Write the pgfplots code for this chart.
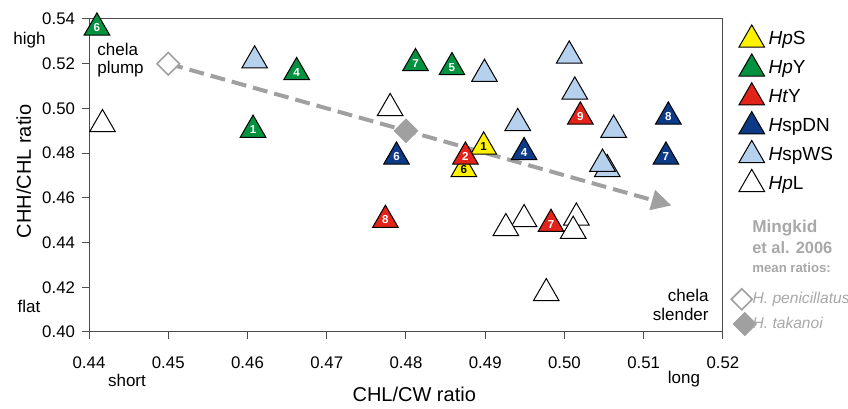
\documentclass[border=0pt]{standalone}
\usepackage{pgfplots}
\pgfplotsset{compat=1.18}
\usepackage{fontspec}
\setmainfont{Liberation Sans}
\usetikzlibrary{arrows.meta}

\definecolor{cyel}{HTML}{FFF200}
\definecolor{cgrn}{HTML}{00923F}
\definecolor{cred}{HTML}{E2231A}
\definecolor{cnav}{HTML}{0D3A87}
\definecolor{clbl}{HTML}{B5D1ED}
\definecolor{cgry}{HTML}{A0A0A0}
\definecolor{ctxt}{HTML}{A8A8A8}

\pgfplotsset{
  tri/.style={only marks, mark=triangle*, mark size=7.4pt,
    mark options={fill=#1, draw=black, line width=0.5pt},
    nodes near coords, point meta=explicit symbolic,
    every node near coord/.append style={anchor=center, inner sep=0pt,
      font=\fontsize{5.8}{6}\selectfont\bfseries, text=white}},
}

\begin{document}
\begin{tikzpicture}
\begin{axis}[
  scale only axis, width=317pt, height=156.5pt,
  xmin=0.44, xmax=0.52, ymin=0.40, ymax=0.54,
  xtick={0.44,0.45,0.46,0.47,0.48,0.49,0.50,0.51,0.52},
  ytick={0.40,0.42,0.44,0.46,0.48,0.50,0.52,0.54},
  tick label style={font=\fontsize{8.4}{10}\selectfont,
    /pgf/number format/.cd, fixed, fixed zerofill, precision=2, assume math mode=true},
  xticklabel shift=5.2pt,
  tick align=outside, xtick pos=bottom, ytick pos=left, major tick length=3.5pt,
  axis line style={black!70, line width=0.5pt},
  tick style={black!70, line width=0.5pt},
  clip=false,
  xlabel={CHL/CW ratio}, ylabel={CHH/CHL ratio},
  every axis x label/.style={at={(axis description cs:0.513,-0.2227)}, anchor=base,
    font=\fontsize{10}{12}\selectfont},
  every axis y label/.style={at={(axis description cs:-0.0915,0.5128)}, anchor=base,
    rotate=90, font=\fontsize{10}{12}\selectfont},
  legend cell align=left,
  legend style={draw=none, fill=none, at={(axis description cs:1.003,0.995)},
    anchor=north west, font=\fontsize{9.5}{11}\selectfont, row sep=1pt},
]

% trend arrow and Mingkid et al. 2006 mean ratios
\addplot[forget plot, cgry, line width=2pt, dash pattern=on 7.5pt off 3.5pt,
  -{Triangle[length=10pt, width=10pt]}] coordinates {(0.4500,0.5200) (0.5135,0.4566)};
\addplot[forget plot, only marks, mark=square*, mark size=4pt,
  mark options={rotate=45, draw=cgry, fill=white, line width=0.8pt}] coordinates {(0.45,0.52)};
\addplot[forget plot, only marks, mark=square*, mark size=4.2pt,
  mark options={rotate=45, draw=cgry, fill=cgry}] coordinates {(0.48,0.49)};

% HpS
\addplot[tri=cyel, every node near coord/.append style={text=black}] coordinates {
  (0.4873,0.4728) [6] (0.4898,0.4829) [1]
};
\addlegendentry{\textit{Hp}S}
% HpY
\addplot[tri=cgrn] coordinates {
  (0.4410,0.5361) [6] (0.4607,0.4904) [1] (0.4662,0.5162) [4]
  (0.4812,0.5202) [7] (0.4858,0.5184) [5]
};
\addlegendentry{\textit{Hp}Y}
% HtY
\addplot[tri=cred] coordinates {
  (0.4875,0.4784) [2] (0.5020,0.4963) [9] (0.4774,0.4501) [8] (0.4983,0.4483) [7]
};
\addlegendentry{\textit{Ht}Y}
% HspDN
\addplot[tri=cnav] coordinates {
  (0.4788,0.4784) [6] (0.4949,0.4804) [4] (0.5131,0.4963) [8] (0.5128,0.4784) [7]
};
\addlegendentry{\textit{H}spDN}
% HspWS
\addplot[only marks, mark=triangle*, mark size=7.4pt,
  mark options={fill=clbl, draw=black, line width=0.5pt}] coordinates {
  (0.4609,0.5214) (0.4899,0.5154) (0.5006,0.5236) (0.5013,0.5075)
  (0.4941,0.4934) (0.5062,0.4904) (0.5054,0.4728) (0.5048,0.4752)
};
\addlegendentry{\textit{H}spWS}
% HpL
\addplot[only marks, mark=triangle*, mark size=7.4pt,
  mark options={fill=white, draw=black, line width=0.5pt}] coordinates {
  (0.4417,0.4929) (0.4780,0.5001) (0.4949,0.4504) (0.4926,0.4464)
  (0.5015,0.4511) (0.5011,0.4452) (0.4977,0.4173)
};
\addlegendentry{\textit{Hp}L}

% spacer rows, then the two mean-ratio entries
\addlegendimage{only marks, mark=triangle*, mark size=7.4pt, mark options={opacity=0}}
\addlegendentry{\strut}
\addlegendimage{only marks, mark=triangle*, mark size=7.4pt, mark options={opacity=0}}
\addlegendentry{\strut}
\addlegendimage{only marks, mark=triangle*, mark size=7.4pt, mark options={opacity=0}}
\addlegendentry{\strut}
\addlegendimage{only marks, mark=square*, mark size=3.7pt,
  mark options={xshift=-5pt, rotate=45, draw=cgry, fill=white, line width=0.8pt}}
\addlegendentry{\hspace*{-8pt}\makebox[20pt][l]{\fontsize{7.8}{8}\selectfont\color{ctxt}\textit{H. penicillatus}}}
\addlegendimage{only marks, mark=square*, mark size=4.1pt,
  mark options={xshift=-3.5pt, rotate=45, draw=cgry, fill=cgry}}
\addlegendentry{\hspace*{-8pt}\makebox[20pt][l]{\fontsize{7.8}{8}\selectfont\color{ctxt}\textit{H. takanoi}}}

% annotations
\begin{scope}[every node/.style={inner sep=0pt, font=\fontsize{8.5}{10}\selectfont}]
\node[anchor=base] at (axis description cs:-0.0938,0.9201) {high};
\node[anchor=base] at (axis description cs:-0.0946,0.0607) {flat};
\node[anchor=base] at (axis description cs:0.0599,-0.1757) {short};
\node[anchor=base] at (axis description cs:0.9385,-0.1650) {long};
\node[anchor=base west] at (axis description cs:0.0126,0.8818) {chela};
\node[anchor=base west] at (axis description cs:0.0126,0.8243) {plump};
\node[anchor=base east] at (axis description cs:0.9779,0.0968) {chela};
\node[anchor=base east] at (axis description cs:0.9779,0.0383) {slender};
\node[anchor=base west, font=\fontsize{8.6}{10}\selectfont\bfseries, text=ctxt]
  at (axis description cs:1.0457,0.3163) {Mingkid};
\node[anchor=base west, font=\fontsize{8.2}{10}\selectfont\bfseries, text=ctxt]
  at (axis description cs:1.0457,0.2492) {et al. 2006};
\node[anchor=base west, font=\fontsize{6.6}{8}\selectfont\bfseries, text=ctxt]
  at (axis description cs:1.0457,0.1895) {mean ratios:};
\end{scope}
\path (axis description cs:-0.1404,1.0607) (axis description cs:1.1972,-0.2300);
\end{axis}
\end{tikzpicture}
\end{document}
